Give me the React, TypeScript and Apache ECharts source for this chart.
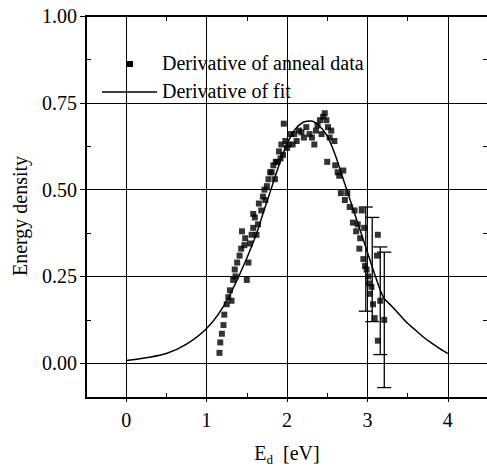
import React, { useEffect, useRef } from 'react';
import * as echarts from 'echarts';

const seriesNames = ['Derivative of anneal data', 'Derivative of fit'];
const xTitleMain = 'E';
const xTitleSub = 'd';
const xTitleUnit = '[eV]';
const yTitle = 'Energy density';

const xMajorTicks = [0, 1, 2, 3, 4];
const xMinorTicks = [0.5, 1.5, 2.5, 3.5];
const yMajorTicks = [0, 0.25, 0.5, 0.75, 1.0];
const yMinorTicks = [0.125, 0.375, 0.625, 0.875];

const annealPoints: number[][] = [
  [1.16, 0.03], [1.17, 0.06], [1.19, 0.085], [1.21, 0.11], [1.22, 0.14], [1.25, 0.17],
  [1.27, 0.19], [1.29, 0.21], [1.31, 0.18], [1.33, 0.24], [1.36, 0.25], [1.38, 0.29],
  [1.41, 0.31], [1.44, 0.38], [1.47, 0.34], [1.50, 0.24], [1.52, 0.29], [1.54, 0.345],
  [1.56, 0.37], [1.58, 0.39], [1.60, 0.42], [1.62, 0.37], [1.64, 0.40], [1.65, 0.46],
  [1.68, 0.44], [1.70, 0.48], [1.72, 0.50], [1.75, 0.51], [1.77, 0.53], [1.79, 0.55],
  [1.81, 0.55], [1.83, 0.57], [1.85, 0.53], [1.86, 0.58], [1.88, 0.58], [1.90, 0.61],
  [1.92, 0.59], [1.95, 0.60], [1.96, 0.69], [1.98, 0.64], [2.00, 0.62], [2.02, 0.63],
  [2.05, 0.66], [2.07, 0.63], [2.09, 0.66], [2.12, 0.64], [2.15, 0.67], [2.18, 0.665],
  [2.21, 0.65], [2.24, 0.68], [2.28, 0.66], [2.31, 0.65], [2.34, 0.63], [2.36, 0.67],
  [2.38, 0.685], [2.41, 0.70], [2.43, 0.66], [2.45, 0.71], [2.47, 0.72], [2.49, 0.70],
  [2.51, 0.68], [2.53, 0.65], [2.55, 0.67], [2.50, 0.58], [2.59, 0.64], [2.60, 0.57],
  [2.63, 0.55], [2.65, 0.54], [2.67, 0.49], [2.70, 0.555], [2.72, 0.47], [2.75, 0.49],
  [2.78, 0.45], [2.82, 0.405], [2.84, 0.44], [2.86, 0.38], [2.88, 0.40], [2.90, 0.33],
  [2.91, 0.36], [2.93, 0.44], [2.95, 0.30], [2.96, 0.39], [2.97, 0.28], [2.99, 0.27],
  [3.01, 0.25], [3.02, 0.23], [3.03, 0.20], [3.05, 0.22], [3.07, 0.17], [3.09, 0.13],
  [3.12, 0.31], [3.13, 0.37], [3.13, 0.065], [3.16, 0.18], [3.21, 0.125],
  [1.35, 0.27], [1.43, 0.33], [1.48, 0.36], [1.58, 0.43], [1.73, 0.47], [1.93, 0.63],
];

const fitPoints: number[][] = [
  [0.0, 0.008], [0.25, 0.016], [0.5, 0.028], [0.75, 0.055], [1.0, 0.10], [1.2, 0.16],
  [1.4, 0.25], [1.6, 0.36], [1.7, 0.43], [1.8, 0.50], [1.9, 0.57], [2.0, 0.632], [2.1, 0.673],
  [2.2, 0.694], [2.3, 0.698], [2.4, 0.684], [2.5, 0.655], [2.6, 0.60], [2.7, 0.53],
  [2.8, 0.46], [2.9, 0.39], [3.0, 0.32], [3.1, 0.25], [3.2, 0.19], [3.3, 0.165],
  [3.4, 0.14], [3.5, 0.115], [3.6, 0.095], [3.7, 0.075], [3.8, 0.058], [3.9, 0.042],
  [4.0, 0.028],
];

// [x, y, half-length of error bar]
const errorBars: number[][] = [
  [2.98, 0.30, 0.15],
  [3.06, 0.27, 0.15],
  [3.16, 0.18, 0.155],
  [3.21, 0.125, 0.195],
];

const FONT = "'Liberation Serif', 'Times New Roman', serif";
const FS = 20;

export default function App() {
  const ref = useRef<HTMLDivElement>(null);

  useEffect(() => {
    if (!ref.current) return;
    const chart = echarts.init(ref.current, undefined, { renderer: 'svg' });

    const xBase = { type: 'value', min: -0.5, max: 4.5, splitLine: { show: false } };
    const yBase = { type: 'value', min: -0.1, max: 1.0, splitLine: { show: false } };
    const black = { color: '#000' };

    const option: any = {
      animation: false,
      backgroundColor: '#fff',
      textStyle: { fontFamily: FONT, color: '#000' },
      grid: {
        left: 86, top: 16, width: 402, height: 382,
        outerBoundsMode: 'none',
        containLabel: false,
        show: true, borderColor: '#000', borderWidth: 2, backgroundColor: 'transparent',
      },
      graphic: [
        { type: 'rect', left: 127, top: 61, shape: { width: 6, height: 6 }, style: { fill: '#000' }, z: 10 },
        { type: 'line', shape: { x1: 102, y1: 92, x2: 157, y2: 92 }, style: { stroke: '#000', lineWidth: 1.5 }, z: 10 },
        {
          type: 'text', left: 162, top: 53, z: 10,
          style: { text: seriesNames[0], fontFamily: FONT, fontSize: FS, fill: '#000' },
        },
        {
          type: 'text', left: 162, top: 81, z: 10,
          style: { text: seriesNames[1], fontFamily: FONT, fontSize: FS, fill: '#000' },
        },
        {
          type: 'text', z: 10,
          x: 20, y: 216, rotation: Math.PI / 2,
          style: {
            text: yTitle, fontFamily: FONT, fontSize: FS, fill: '#000',
            align: 'center', verticalAlign: 'middle',
          },
        },
      ],
      xAxis: [
        {
          ...xBase, position: 'bottom',
          axisLine: { show: true, onZero: false, lineStyle: { ...black, width: 2 } },
          axisTick: { show: true, inside: false, length: 4, customValues: xMajorTicks, lineStyle: { ...black, width: 1 } },
          axisLabel: { customValues: xMajorTicks, margin: 12, color: '#000', fontSize: FS, fontFamily: FONT },
          name: `{m|${xTitleMain}}{s|${xTitleSub}}{m|  ${xTitleUnit}}`,
          nameLocation: 'middle',
          nameGap: 43,
          nameTextStyle: {
            fontFamily: FONT, color: '#000',
            rich: {
              m: { fontFamily: FONT, fontSize: FS, color: '#000', lineHeight: 24 },
              s: { fontFamily: FONT, fontSize: 13, color: '#000', lineHeight: 24, padding: [13, 0, 0, 0] },
            },
          },
        },
        {
          ...xBase, position: 'bottom',
          axisLine: { show: false, onZero: false },
          axisTick: { show: true, inside: true, length: 5, customValues: xMinorTicks, lineStyle: { ...black, width: 1 } },
          axisLabel: { show: false },
        },
        {
          ...xBase, position: 'top',
          axisLine: { show: true, onZero: false, lineStyle: { ...black, width: 2 } },
          axisTick: { show: true, inside: true, length: 5, customValues: xMinorTicks, lineStyle: { ...black, width: 1 } },
          axisLabel: { show: false },
        },
      ],
      yAxis: [
        {
          ...yBase, position: 'left',
          axisLine: { show: true, onZero: false, lineStyle: { ...black, width: 2 } },
          axisTick: { show: true, inside: false, length: 6, customValues: yMajorTicks, lineStyle: { ...black, width: 1 } },
          axisLabel: {
            customValues: yMajorTicks, margin: 9, color: '#000', fontSize: FS, fontFamily: FONT,
            formatter: (v: number) => v.toFixed(2),
          },
        },
        {
          ...yBase, position: 'left',
          axisLine: { show: false, onZero: false },
          axisTick: { show: true, inside: true, length: 5, customValues: yMinorTicks, lineStyle: { ...black, width: 1 } },
          axisLabel: { show: false },
        },
        {
          ...yBase, position: 'right',
          axisLine: { show: true, onZero: false, lineStyle: { ...black, width: 2 } },
          axisTick: { show: true, inside: true, length: 5, customValues: yMinorTicks, lineStyle: { ...black, width: 1 } },
          axisLabel: { show: false },
        },
      ],
      series: [
        {
          name: seriesNames[0],
          type: 'scatter',
          xAxisIndex: 0, yAxisIndex: 0,
          symbol: 'rect',
          symbolSize: 6,
          itemStyle: { color: '#000' },
          data: annealPoints,
          z: 4,
        },
        {
          name: seriesNames[1],
          type: 'line',
          xAxisIndex: 0, yAxisIndex: 0,
          showSymbol: false,
          symbol: 'none',
          smooth: 0.3,
          lineStyle: { color: '#000', width: 1.5 },
          itemStyle: { color: '#000' },
          data: fitPoints,
          z: 3,
          markLine: {
            silent: true,
            symbol: ['none', 'none'],
            label: { show: false },
            lineStyle: { color: '#000', width: 1, type: 'solid' },
            data: [
              ...xMajorTicks.map((v) => ({ xAxis: v })),
              ...yMajorTicks.map((v) => ({ yAxis: v })),
            ],
          },
        },
        {
          name: 'error bars',
          type: 'custom',
          xAxisIndex: 0, yAxisIndex: 0,
          data: errorBars,
          encode: { x: 0, y: 1 },
          z: 4,
          renderItem: (params: any, api: any) => {
            const x = api.value(0);
            const y = api.value(1);
            const d = api.value(2);
            const top = api.coord([x, y + d]);
            const bot = api.coord([x, y - d]);
            const hw = 7;
            const style = { stroke: '#000', lineWidth: 1.3 };
            return {
              type: 'group',
              children: [
                { type: 'line', shape: { x1: top[0], y1: top[1], x2: bot[0], y2: bot[1] }, style },
                { type: 'line', shape: { x1: top[0] - hw, y1: top[1], x2: top[0] + hw, y2: top[1] }, style },
                { type: 'line', shape: { x1: bot[0] - hw, y1: bot[1], x2: bot[0] + hw, y2: bot[1] }, style },
              ],
            };
          },
        },
      ],
    };

    chart.setOption(option);
    return () => chart.dispose();
  }, []);

  return (
    <div
      ref={ref}
      style={{ position: 'absolute', left: 0, top: 0, width: 487, height: 470, background: '#fff' }}
    />
  );
}
